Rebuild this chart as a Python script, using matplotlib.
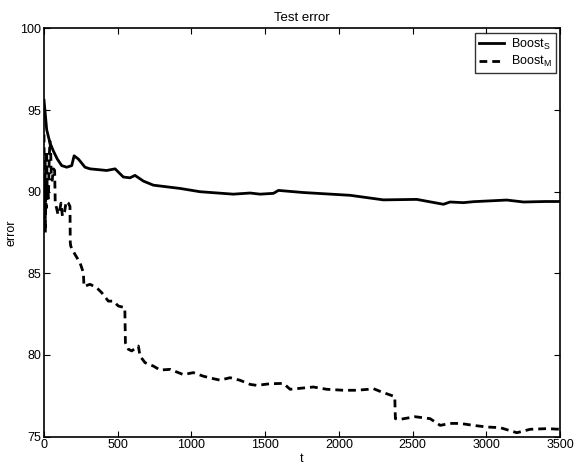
"""Test error curves for Boost_S vs Boost_M (MATLAB-style figure)."""
import numpy as np
import matplotlib

matplotlib.use("Agg")
import matplotlib.pyplot as plt

plt.rcParams["font.family"] = ["Liberation Sans", "DejaVu Sans"]
plt.rcParams["mathtext.fontset"] = "custom"
plt.rcParams["mathtext.rm"] = "Liberation Sans"
plt.rcParams["font.size"] = 9

# Boost_S (solid)
t_s = [0, 18, 40, 63, 90, 120, 154, 188, 204, 233, 278, 312, 370, 425, 482,
       538, 583, 617, 674, 742, 832, 923, 1058, 1284, 1398, 1465, 1556, 1590,
       1759, 2076, 2302, 2528, 2709, 2754, 2845, 2913, 3139, 3252, 3400, 3500]
err_s = [95.6, 93.8, 93.0, 92.5, 92.0, 91.6, 91.5, 91.6, 92.2, 92.0, 91.5,
         91.4, 91.35, 91.3, 91.4, 90.9, 90.85, 91.0, 90.65, 90.4, 90.3, 90.2,
         90.0, 89.85, 89.92, 89.85, 89.9, 90.08, 89.95, 89.78, 89.5, 89.53,
         89.23, 89.37, 89.33, 89.39, 89.49, 89.37, 89.4, 89.4]

# Boost_M (dashed)
t_m = [0, 3, 6, 9, 12, 15, 18, 22, 26, 30, 35, 40, 45, 50, 55, 65, 72, 76,
       85, 95, 105, 115, 125, 140, 150, 165, 176, 178, 181, 210, 244, 267,
       271, 312, 357, 391, 436, 470, 504, 548, 552, 572, 595, 640, 651, 685,
       742, 787, 855, 945, 1013, 1081, 1149, 1194, 1262, 1330, 1398, 1443,
       1533, 1624, 1669, 1737, 1827, 1918, 2031, 2121, 2200, 2234, 2291,
       2336, 2379, 2383, 2415, 2517, 2619, 2687, 2754, 2822, 2913, 3003,
       3094, 3207, 3297, 3410, 3500]
err_m = [93.5, 88.5, 92.0, 87.5, 90.5, 89.0, 92.5, 89.5, 90.3, 89.6, 92.0,
         93.1, 92.5, 90.8, 90.7, 91.4, 91.3, 89.3, 89.0, 88.6, 88.8, 89.3,
         88.5, 88.8, 89.4, 89.3, 89.1, 86.9, 86.67, 86.16, 85.65, 85.04,
         84.2, 84.33, 84.12, 83.82, 83.3, 83.3, 83.0, 82.9, 80.75, 80.35,
         80.25, 80.55, 79.94, 79.53, 79.32, 79.08, 79.12, 78.8, 78.92, 78.7,
         78.55, 78.46, 78.61, 78.45, 78.2, 78.14, 78.24, 78.26, 77.9, 77.96,
         78.04, 77.9, 77.84, 77.84, 77.9, 77.94, 77.73, 77.59, 77.45, 76.1,
         76.06, 76.22, 76.1, 75.69, 75.81, 75.81, 75.69, 75.59, 75.55, 75.24,
         75.45, 75.49, 75.45]


def main() -> None:
    fig = plt.figure(figsize=(5.74, 4.66), dpi=100)
    ax = fig.add_axes([0.0767, 0.063, 0.899, 0.876])

    ax.plot(t_s, err_s, "-", color="black", lw=2.0,
            label=r"Boost$_{\mathrm{S}}$")
    ax.plot(t_m, err_m, "--", color="black", lw=2.0, dashes=(2.8, 1.8),
            label=r"Boost$_{\mathrm{M}}$")

    ax.set_xlim(0, 3500)
    ax.set_ylim(75, 100)
    ax.set_xticks(np.arange(0, 3501, 500))
    ax.set_yticks(np.arange(75, 101, 5))
    ax.tick_params(direction="in", top=True, right=True, length=4,
                   width=0.8, labelsize=9, pad=2)
    for sp in ax.spines.values():
        sp.set_linewidth(1.2)

    ax.set_xlabel("t", labelpad=1)
    ax.set_ylabel("error", labelpad=2)
    ax.set_title("Test error", fontsize=9.5, pad=5)

    leg = ax.legend(loc="upper right", fontsize=9, frameon=True,
                    fancybox=False, edgecolor="black", handlelength=2.0,
                    borderaxespad=0.35, labelspacing=0.2, handletextpad=0.6,
                    borderpad=0.3)
    leg.get_frame().set_linewidth(1.0)

    fig.savefig("out.png", dpi=100)
    plt.close(fig)


if __name__ == "__main__":
    main()
